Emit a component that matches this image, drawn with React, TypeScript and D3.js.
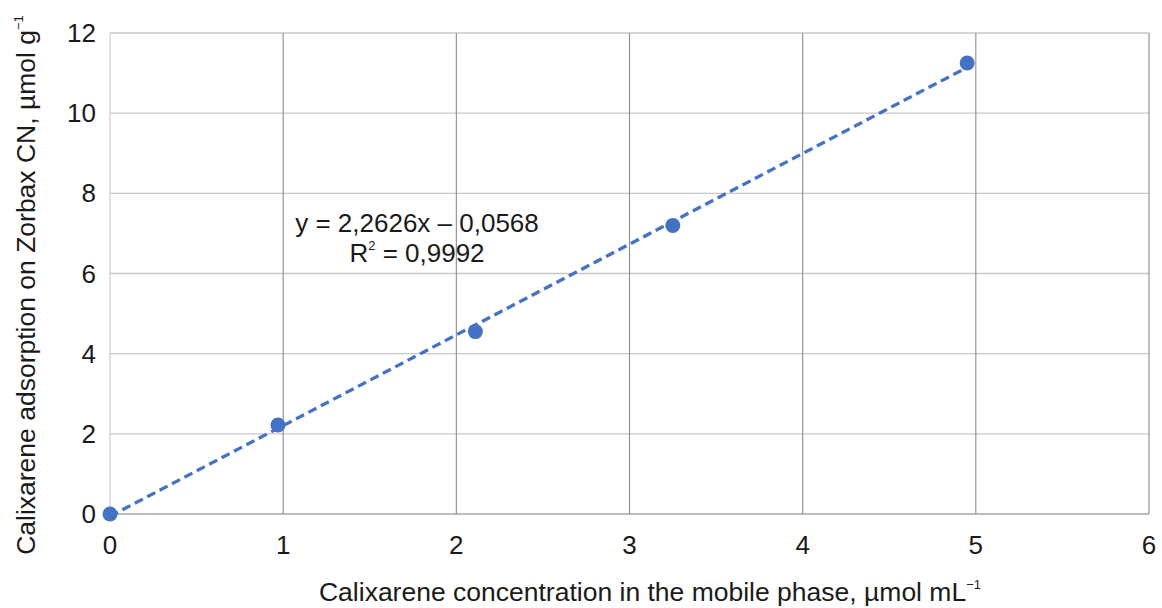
import React from "react";
import * as d3 from "d3";

const xValues = [0, 0.97, 2.11, 3.25, 4.95];
const yValues = [0, 2.22, 4.55, 7.2, 11.25];
const xTicks = [0, 1, 2, 3, 4, 5, 6];
const yTicks = [0, 2, 4, 6, 8, 10, 12];
const slope = 2.2626;
const intercept = -0.0568;
const eqLine1 = "y = 2,2626x – 0,0568";
const eqLine2Value = " = 0,9992";

const W = 1162;
const H = 608;
const M = { left: 110, right: 13, top: 33, bottom: 94 };
const FONT = "'Liberation Sans', Arial, sans-serif";
const BLUE = "#4472C4";

export default function App() {
  const x = d3.scaleLinear().domain([0, 6]).range([M.left, W - M.right]);
  const y = d3.scaleLinear().domain([0, 12]).range([H - M.bottom, M.top]);
  const x0 = 0;
  const x1 = xValues[xValues.length - 1];
  const trend = d3.line<number>()
    .x((d) => x(d))
    .y((d) => y(slope * d + intercept));
  return (
    <svg width={W} height={H} style={{ position: "absolute", left: 0, top: 0 }} fontFamily={FONT}>
      <rect width={W} height={H} fill="#fff" />
      {yTicks.map((t) => (
        <line key={"h" + t} x1={x(0)} x2={x(6)} y1={y(t)} y2={y(t)} stroke={t === 0 ? "#a6a6a6" : "#c8c8c8"} strokeWidth={1.3} />
      ))}
      {xTicks.map((t) => (
        <line key={"v" + t} x1={x(t)} x2={x(t)} y1={y(0)} y2={y(12)} stroke={t === 0 ? "#c8c8c8" : "#8c8c8c"} strokeWidth={1.1} />
      ))}
      <path d={trend([x0, x1]) || ""} fill="none" stroke={BLUE} strokeWidth={3.3} strokeDasharray="9,5" />
      {xValues.map((v, i) => (
        <circle key={i} cx={x(v)} cy={y(yValues[i])} r={7.5} fill={BLUE} />
      ))}
      {yTicks.map((t) => (
        <text key={"yt" + t} x={x(0) - 14} y={y(t)} dy="0.35em" textAnchor="end" fontSize={26} fill="#1a1a1a">{t}</text>
      ))}
      {xTicks.map((t) => (
        <text key={"xt" + t} x={x(t)} y={y(0) + 40} textAnchor="middle" fontSize={26} fill="#1a1a1a">{t}</text>
      ))}
      <text x={417} y={232} textAnchor="middle" fontSize={26} fill="#1a1a1a">{eqLine1}</text>
      <text x={417} y={262} textAnchor="middle" fontSize={26} fill="#1a1a1a">
        R<tspan fontSize={13} dy={-12}>2</tspan><tspan dy={12}>{eqLine2Value}</tspan>
      </text>
      <text x={650} y={601} textAnchor="middle" fontSize={26.5} fill="#1a1a1a">
        Calixarene concentration in the mobile phase, µmol mL<tspan fontSize={13} dy={-12}>−1</tspan>
      </text>
      <text transform={`translate(35, ${285}) rotate(-90)`} textAnchor="middle" fontSize={26.5} fill="#1a1a1a">
        Calixarene adsorption on Zorbax CN, µmol g<tspan fontSize={13} dy={-12}>−1</tspan>
      </text>
    </svg>
  );
}
